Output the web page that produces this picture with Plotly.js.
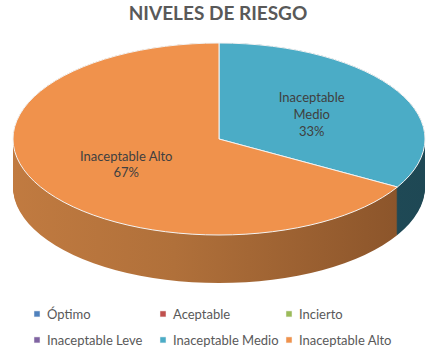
<!DOCTYPE html>
<html>
<head>
<meta charset="utf-8">
<script src="https://cdn.plot.ly/plotly-3.0.1.min.js"></script>
<style>
  html, body { margin: 0; padding: 0; background: #fff; }
  #chart { width: 436px; height: 353px; }
</style>
</head>
<body>
<div id="chart"></div>
<script>
// ---- data ----
const labels = ["Óptimo", "Aceptable", "Incierto", "Inaceptable Leve", "Inaceptable Medio", "Inaceptable Alto"];
const sliceText = ["Óptimo", "Aceptable", "Incierto", "Inaceptable<br>Leve", "Inaceptable<br>Medio", "Inaceptable Alto"];
const values = [0, 0, 0, 0, 1, 2];
const topColors = ["#4f81bd", "#c0504d", "#9bbb59", "#8064a2", "#4bacc6", "#f0924c"];
const sideColors = ["#2c4d75", "#772c2a", "#5f7530", "#4d3b62", "#1f4b57", "#a0602a"];
const chartTitle = "NIVELES DE RIESGO";

// ---- geometry / style of the tilted pie ----
const W = 436, H = 353;
const CX = 219, CY = 139, RY = 96, RX = 206, DEPTH = 48;
const SX = RX / RY;
const LABEL_R = 0.52;
const FONT = "Lato, 'Open Sans', sans-serif";
const LEG_COLS = 3, LEG_COL_W = 126, LEG_ROW_H = 26, LEG_TEXT_X = 47, LEG_ROW1_Y = 314;

const domain = {
  x: [(CX - RY) / W, (CX + RY) / W],
  y: [(H - CY - RY) / H, (H - CY + RY) / H]
};

const common = {
  type: "pie",
  labels: labels,
  values: values,
  sort: false,
  direction: "clockwise",
  rotation: 0,
  domain: domain,
  hole: 0
};

const sideTrace = Object.assign({}, common, {
  marker: { colors: sideColors, line: { width: 0 } },
  textinfo: "none",
  hoverinfo: "skip",
  showlegend: false,
  name: "side"
});

const topTrace = Object.assign({}, common, {
  marker: { colors: topColors, line: { width: 1, color: "#f4f4f4" } },
  text: sliceText,
  texttemplate: "%{text}<br>%{percent:.0%}",
  textposition: "inside",
  insidetextorientation: "horizontal",
  insidetextfont: { family: FONT, size: 13, color: "#404040" },
  hoverinfo: "label+percent",
  name: "top"
});

const layout = {
  width: W,
  height: H,
  margin: { l: 0, r: 0, t: 0, b: 0 },
  paper_bgcolor: "#ffffff",
  title: {
    text: "<b>" + chartTitle + "</b>",
    font: { family: FONT, size: 19, color: "#595959" },
    x: 0.5, xanchor: "center",
    y: 0.962, yanchor: "middle", yref: "container"
  },
  showlegend: true,
  legend: {
    orientation: "h",
    x: 0.5, xanchor: "center",
    y: 0.02, yanchor: "bottom",
    entrywidth: 80, entrywidthmode: "pixels",
    font: { family: FONT, size: 13, color: "#595959" },
    traceorder: "normal"
  }
};

Plotly.newPlot("chart", [sideTrace, topTrace], layout, { displayModeBar: false, staticPlot: true }).then(function (gd) {
  const svgNS = "http://www.w3.org/2000/svg";
  const mainSvg = gd.querySelector("svg.main-svg");
  const cd0 = gd.calcdata[1][0];
  const cx = cd0.cx, cy = cd0.cy;
  const stretch = "translate(" + cx + "," + cy + ") scale(" + SX + ",1) translate(" + (-cx) + "," + (-cy) + ")";
  const total = values.reduce(function (a, b) { return a + b; }, 0);

  // gradients for the side walls
  let defs = mainSvg.querySelector("defs");
  if (!defs) { defs = document.createElementNS(svgNS, "defs"); mainSvg.insertBefore(defs, mainSvg.firstChild); }
  function addGrad(id, stops) {
    const g = document.createElementNS(svgNS, "linearGradient");
    g.setAttribute("id", id);
    g.setAttribute("gradientUnits", "userSpaceOnUse");
    g.setAttribute("x1", cx - RX); g.setAttribute("x2", cx + RX);
    g.setAttribute("y1", 0); g.setAttribute("y2", 0);
    stops.forEach(function (s) {
      const st = document.createElementNS(svgNS, "stop");
      st.setAttribute("offset", s[0]);
      st.setAttribute("stop-color", s[1]);
      g.appendChild(st);
    });
    defs.appendChild(g);
  }
  addGrad("gradAlto", [[0, "#d98a4a"], [0.45, "#b0703a"], [0.75, "#855028"], [1, "#5a3a1e"]]);
  addGrad("gradMedio", [[0, "#2a6070"], [1, "#1a3f4a"]]);

  const traces = gd.querySelectorAll(".pielayer g.trace");
  const sideG = traces[0], topG = traces[1];

  // side walls: stretched copy of the pie, extruded downward
  sideG.querySelectorAll("g.slice").forEach(function (s) {
    const p = s.querySelector("path.surface");
    if (!p) return;
    const idx = s.__data__ ? s.__data__.i : -1;
    const lab = labels[idx];
    if (lab === "Inaceptable Alto") p.style.fill = "url(#gradAlto)";
    if (lab === "Inaceptable Medio") p.style.fill = "url(#gradMedio)";
    p.style.stroke = "none";
    p.setAttribute("transform", "translate(0," + DEPTH + ") " + stretch);
    for (let d = 0; d < DEPTH; d += 1) {
      const c = p.cloneNode(true);
      c.setAttribute("transform", "translate(0," + d + ") " + stretch);
      p.parentNode.insertBefore(c, p);
    }
  });

  // top face
  topG.querySelectorAll("g.slice path.surface").forEach(function (p) {
    p.setAttribute("transform", stretch);
    p.setAttribute("vector-effect", "non-scaling-stroke");
  });

  // slice labels: at the slice's mid angle on the stretched face
  topG.querySelectorAll("g.slice").forEach(function (s) {
    const t = s.querySelector("text.slicetext");
    if (!t || !s.__data__) return;
    const idx = s.__data__.i;
    let before = 0;
    for (let k = 0; k < idx; k++) before += values[k];
    const a = 2 * Math.PI * (before + values[idx] / 2) / total;
    const tx = cx + RX * LABEL_R * Math.sin(a);
    const ty = cy - RY * LABEL_R * Math.cos(a);
    const r = t.getBoundingClientRect();
    const wrap = document.createElementNS(svgNS, "g");
    wrap.setAttribute("transform", "translate(" + (tx - (r.left + r.width / 2)) + "," + (ty - (r.top + r.height / 2)) + ")");
    t.parentNode.insertBefore(wrap, t);
    wrap.appendChild(t);
  });

  // legend: small swatches, 3 columns grid
  gd.querySelectorAll(".legend .legendpoints path").forEach(function (p) {
    p.setAttribute("transform", "translate(30,0) scale(0.5)");
  });
  const sb = gd.querySelector(".legend .scrollbox");
  if (sb) sb.removeAttribute("clip-path");
  const items = gd.querySelectorAll(".legend g.traces");
  function place(ox, oy) {
    items.forEach(function (g, i) {
      const col = i % LEG_COLS, row = Math.floor(i / LEG_COLS);
      g.setAttribute("transform", "translate(" + (ox + col * LEG_COL_W) + "," + (oy + row * LEG_ROW_H) + ")");
    });
  }
  place(0, 0);
  const t0 = items[0].querySelector("text.legendtext");
  const r0 = t0.getBoundingClientRect();
  place(LEG_TEXT_X - r0.left, LEG_ROW1_Y - (r0.top + r0.height / 2));
});
</script>
</body>
</html>
